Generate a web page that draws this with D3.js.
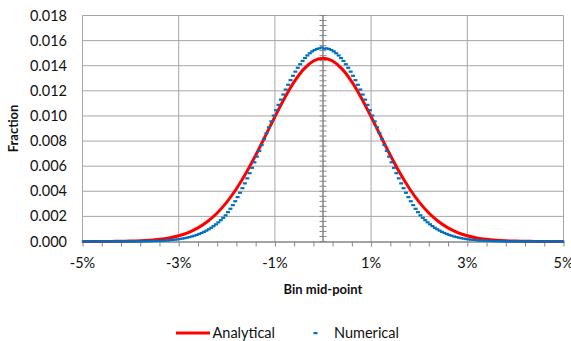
<!DOCTYPE html>
<html><head><meta charset="utf-8">
<script src="https://cdn.jsdelivr.net/npm/d3@7"></script>
<style>
html,body{margin:0;padding:0;background:#fff;}
svg{display:block;}
text{font-family:Lato,"Open Sans",sans-serif;fill:#111;}
</style></head>
<body>
<svg id="chart" width="571" height="341"></svg>
<script>
// ---- data ----
const yTickLabels = ["0.000","0.002","0.004","0.006","0.008","0.010","0.012","0.014","0.016","0.018"];
const yTickValues = [0,0.002,0.004,0.006,0.008,0.010,0.012,0.014,0.016,0.018];
const xTickLabels = ["-5%","-3%","-1%","1%","3%","5%"];
const xTickValues = [-5,-3,-1,1,3,5];
const xAxisTitle = "Bin mid-point";
const yAxisTitle = "Fraction";
const legendNames = ["Analytical","Numerical"];

// Analytical curve (x in %, fraction)
const analyticalX = [-5,-4.8,-4.6,-4.4,-4.2,-4,-3.8,-3.6,-3.4,-3.2,-3,-2.8,-2.6,-2.4,-2.2,-2,-1.8,-1.6,-1.4,-1.2,-1,-0.8,-0.6,-0.4,-0.2,
 0,0.2,0.4,0.6,0.8,1,1.2,1.4,1.6,1.8,2,2.2,2.4,2.6,2.8,3,3.2,3.4,3.6,3.8,4,4.2,4.4,4.6,4.8,5];
const analyticalY = [0.0000010,0.0000021,0.0000043,0.0000085,0.0000165,0.0000310,0.0000564,0.0000998,0.000171,0.000284,
 0.000458,0.000715,0.001084,0.001592,0.002268,0.003134,0.004198,0.005452,0.006869,0.008390,
 0.009937,0.011413,0.012712,0.013728,0.014377,
 0.014600,
 0.014377,0.013728,0.012712,0.011413,0.009937,0.008390,0.006869,0.005452,0.004198,0.003134,
 0.002268,0.001592,0.001084,0.000715,0.000458,0.000284,0.000171,0.0000998,0.0000564,0.0000310,
 0.0000165,0.0000085,0.0000043,0.0000021,0.0000010];

// Numerical histogram (bin mid-points in %, fraction)
const binMids = [
-4.975,-4.925,-4.875,-4.825,-4.775,-4.725,-4.675,-4.625,-4.575,-4.525,
-4.475,-4.425,-4.375,-4.325,-4.275,-4.225,-4.175,-4.125,-4.075,-4.025,
-3.975,-3.925,-3.875,-3.825,-3.775,-3.725,-3.675,-3.625,-3.575,-3.525,
-3.475,-3.425,-3.375,-3.325,-3.275,-3.225,-3.175,-3.125,-3.075,-3.025,
-2.975,-2.925,-2.875,-2.825,-2.775,-2.725,-2.675,-2.625,-2.575,-2.525,
-2.475,-2.425,-2.375,-2.325,-2.275,-2.225,-2.175,-2.125,-2.075,-2.025,
-1.975,-1.925,-1.875,-1.825,-1.775,-1.725,-1.675,-1.625,-1.575,-1.525,
-1.475,-1.425,-1.375,-1.325,-1.275,-1.225,-1.175,-1.125,-1.075,-1.025,
-0.975,-0.925,-0.875,-0.825,-0.775,-0.725,-0.675,-0.625,-0.575,-0.525,
-0.475,-0.425,-0.375,-0.325,-0.275,-0.225,-0.175,-0.125,-0.075,-0.025,
0.025,0.075,0.125,0.175,0.225,0.275,0.325,0.375,0.425,0.475,
0.525,0.575,0.625,0.675,0.725,0.775,0.825,0.875,0.925,0.975,
1.025,1.075,1.125,1.175,1.225,1.275,1.325,1.375,1.425,1.475,
1.525,1.575,1.625,1.675,1.725,1.775,1.825,1.875,1.925,1.975,
2.025,2.075,2.125,2.175,2.225,2.275,2.325,2.375,2.425,2.475,
2.525,2.575,2.625,2.675,2.725,2.775,2.825,2.875,2.925,2.975,
3.025,3.075,3.125,3.175,3.225,3.275,3.325,3.375,3.425,3.475,
3.525,3.575,3.625,3.675,3.725,3.775,3.825,3.875,3.925,3.975,
4.025,4.075,4.125,4.175,4.225,4.275,4.325,4.375,4.425,4.475,
4.525,4.575,4.625,4.675,4.725,4.775,4.825,4.875,4.925,4.975];
const numericalY = [
0,0,0,0,0,0,0,0,0,0,
0.000001,0.000001,0.000001,0.000001,0.000002,0.000002,0.000003,0.000003,0.000004,0.000005,
0.000006,0.000008,0.000009,0.000011,0.000014,0.000016,0.000020,0.000024,0.000028,0.000034,
0.000040,0.000048,0.000056,0.000067,0.000078,0.000092,0.000108,0.000126,0.000147,0.000171,
0.000199,0.000230,0.000265,0.000306,0.000351,0.000402,0.000460,0.000524,0.000596,0.000677,
0.000766,0.000864,0.000974,0.001093,0.001225,0.001369,0.001527,0.001698,0.001884,0.002084,
0.002335,0.002606,0.002896,0.003206,0.003535,0.003882,0.004247,0.004630,0.005029,0.005442,
0.005870,0.006310,0.006760,0.007218,0.007683,0.008153,0.008625,0.009096,0.009566,0.010031,
0.010459,0.010882,0.011298,0.011705,0.012100,0.012482,0.012849,0.013198,0.013527,0.013835,
0.014120,0.014379,0.014612,0.014817,0.014993,0.015138,0.015252,0.015334,0.015384,0.015450,
0.015350,0.015384,0.015334,0.015252,0.015138,0.014993,0.014817,0.014612,0.014379,0.014120,
0.013835,0.013527,0.013198,0.012849,0.012482,0.012100,0.011705,0.011298,0.010882,0.010459,
0.010031,0.009566,0.009096,0.008625,0.008153,0.007683,0.007218,0.006760,0.006310,0.005870,
0.005442,0.005029,0.004630,0.004247,0.003882,0.003535,0.003206,0.002896,0.002606,0.002335,
0.002084,0.001884,0.001698,0.001527,0.001369,0.001225,0.001093,0.000974,0.000864,0.000766,
0.000677,0.000596,0.000524,0.000460,0.000402,0.000351,0.000306,0.000265,0.000230,0.000199,
0.000171,0.000147,0.000126,0.000108,0.000092,0.000078,0.000067,0.000056,0.000048,0.000040,
0.000034,0.000028,0.000024,0.000020,0.000016,0.000014,0.000011,0.000009,0.000008,0.000006,
0.000005,0.000004,0.000003,0.000003,0.000002,0.000002,0.000001,0.000001,0.000001,0.000001,
0,0,0,0,0,0,0,0,0,0];

// ---- chart ----
const svg = d3.select("#chart");
const L = 82.5, R = 563.5, T = 15.5, B = 241.5;
const x = d3.scaleLinear().domain([-5,5]).range([L,R]);
const y = d3.scaleLinear().domain([0,0.018]).range([B,T]);
const gridColor = "#a6a6a6", axisColor = "#868686";

// horizontal gridlines
svg.append("g").selectAll("line").data(yTickValues.slice(1)).join("line")
  .attr("x1",L).attr("x2",R).attr("y1",d=>y(d)).attr("y2",d=>y(d))
  .attr("stroke",gridColor).attr("stroke-width",1);
// vertical gridlines
svg.append("g").selectAll("line").data(xTickValues).join("line")
  .attr("x1",d=>x(d)).attr("x2",d=>x(d)).attr("y1",T).attr("y2",B)
  .attr("stroke",gridColor).attr("stroke-width",1);

// x axis (at y=0) with minor ticks every 0.4%
const xAxis = d3.axisBottom(x).tickValues(d3.range(0,26).map(i=>-5+0.4*i))
  .tickSize(5).tickFormat("").tickSizeOuter(0);
const gx = svg.append("g").attr("transform",`translate(0,${B})`).call(xAxis);
gx.select(".domain").attr("stroke",axisColor).attr("stroke-width",1.3);
gx.selectAll(".tick line").attr("stroke",axisColor).attr("stroke-width",1);

// y axis (at x=0) with crossing ticks every 0.0004
const yTicksMinor = d3.range(0,46).map(i=>i*0.0004);
const gy = svg.append("g");
gy.append("line").attr("x1",x(0)).attr("x2",x(0)).attr("y1",T).attr("y2",B)
  .attr("stroke",axisColor).attr("stroke-width",1.5);
gy.selectAll("line.t").data(yTicksMinor).join("line").attr("class","t")
  .attr("x1",x(0)-3.5).attr("x2",x(0)+3.5).attr("y1",d=>y(d)).attr("y2",d=>y(d))
  .attr("stroke",axisColor).attr("stroke-width",1);

// tick labels
svg.append("g").selectAll("text").data(yTickValues).join("text")
  .attr("x",67).attr("y",d=>y(d)).attr("dy","0.35em").attr("text-anchor","end")
  .attr("font-size",14.5).text((d,i)=>yTickLabels[i]);
svg.append("g").selectAll("text").data(xTickValues).join("text")
  .attr("x",d=>x(d)).attr("y",268).attr("text-anchor","middle")
  .attr("font-size",14.5).text((d,i)=>xTickLabels[i]);

// axis titles
svg.append("text").attr("x",x(0)).attr("y",294).attr("text-anchor","middle")
  .attr("font-size",13).attr("font-weight","bold").text(xAxisTitle);
svg.append("text").attr("transform",`translate(18,${(T+B)/2}) rotate(-90)`)
  .attr("text-anchor","middle").attr("font-size",13).attr("font-weight","bold").text(yAxisTitle);

// analytical line
const red = "#ff0000", blue = "#0070c0";
const pts = analyticalX.map((v,i)=>[v,analyticalY[i]]);
svg.append("path").datum(pts)
  .attr("d",d3.line().x(d=>x(d[0])).y(d=>y(d[1])).curve(d3.curveMonotoneX))
  .attr("fill","none").attr("stroke",red).attr("stroke-width",3);

// numerical dashes
svg.append("g").selectAll("rect").data(binMids).join("rect")
  .attr("x",d=>x(d)-2).attr("y",(d,i)=>y(numericalY[i])-1.1)
  .attr("width",4).attr("height",2.2).attr("fill",blue);

// legend
const lg = svg.append("g");
lg.append("line").attr("x1",176).attr("x2",210).attr("y1",333).attr("y2",333)
  .attr("stroke",red).attr("stroke-width",3);
lg.append("text").attr("x",212.5).attr("y",338).attr("font-size",14.5).text(legendNames[0]);
lg.append("rect").attr("x",313.5).attr("y",332).attr("width",4).attr("height",2.2).attr("fill",blue);
lg.append("text").attr("x",334).attr("y",338).attr("font-size",14.5).text(legendNames[1]);
</script>
</body></html>
